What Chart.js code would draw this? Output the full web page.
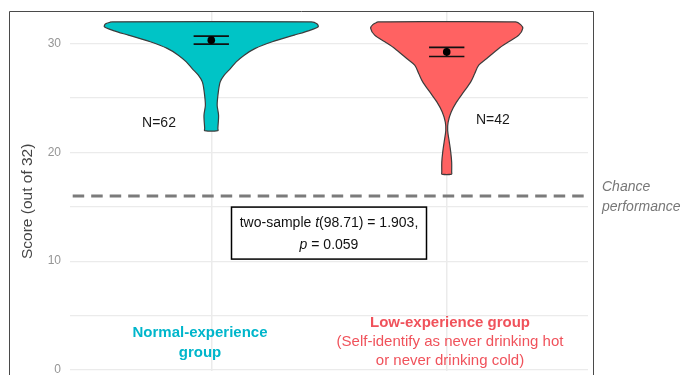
<!DOCTYPE html>
<html>
<head>
<meta charset="utf-8">
<script src="https://cdn.jsdelivr.net/npm/chart.js@4.4.0/dist/chart.umd.min.js"></script>
<style>
  html, body { margin: 0; padding: 0; background: #ffffff; }
  canvas { display: block; }
</style>
</head>
<body>
<canvas id="chart" width="681" height="375"></canvas>
<script>
// ---- data ----
const groupCenters = [1, 2];
const sampleSizes = [62, 42];
const meanScores = [30.32, 29.24];
const seScores = [0.37, 0.42];
const chanceScore = 16;
const yTickValues = [0, 5, 10, 15, 20, 25, 30];

// violin outlines: score levels (top to bottom) and half-width of the density there (category units)
const normalLevels = [32, 31.8, 31.55, 31.2, 30.78, 30.17, 29.56, 28.94, 28.32, 27.71, 27.1, 26.48, 25.56, 24.33, 23.41, 22.21, 22];
const normalHalfWidth = [0.425, 0.450, 0.454, 0.416, 0.352, 0.259, 0.187, 0.140, 0.106, 0.081, 0.055, 0.038, 0.030, 0.025, 0.031, 0.028, 0.028];
const lowLevels = [32, 31.75, 31.4, 30.78, 30.17, 29.56, 28.64, 28.02, 27.25, 26.48, 25.56, 24.64, 23.71, 22.79, 22.0, 20.95, 20.03, 19.1, 18.18, 18];
const lowHalfWidth = [0.293, 0.314, 0.323, 0.306, 0.263, 0.221, 0.170, 0.136, 0.119, 0.102, 0.072, 0.042, 0.019, 0.006, 0.004, 0.011, 0.017, 0.021, 0.021, 0.021];

// text
const yAxisTitle = 'Score (out of 32)';
const normalLabel = ['Normal-experience', 'group'];
const lowLabel = ['Low-experience group', '(Self-identify as never drinking hot', 'or never drinking cold)'];
const testStat = { df: '98.71', t: '1.903', p: '0.059' };
const chanceLabel = ['Chance', 'performance'];

// ---- styling ----
const FONT = '"Liberation Sans", Arial, Helvetica, sans-serif';
const TEAL = '#00C4C6';
const RED = '#FF6262';
const TEAL_TEXT = '#00B6CB';
const RED_TEXT = '#F0525B';
Chart.defaults.font.family = FONT;

function violinOutline(center, levels, half) {
  const left = levels.map((y, i) => ({ x: center - half[i], y }));
  const right = levels.map((y, i) => ({ x: center + half[i], y })).reverse();
  return left.concat(right, [left[0]]);
}

function errorBarPath(center, mean, se, capHalf) {
  const hi = mean + se, lo = mean - se;
  return [
    { x: center - capHalf, y: hi }, { x: center + capHalf, y: hi },
    { x: center, y: null },
    { x: center, y: hi }, { x: center, y: lo },
    { x: center, y: null },
    { x: center - capHalf, y: lo }, { x: center + capHalf, y: lo }
  ];
}

const CAP = 0.075;

const datasets = [
  {
    label: 'errorbar-normal',
    data: errorBarPath(groupCenters[0], meanScores[0], seScores[0], CAP),
    showLine: true, borderColor: '#111', borderWidth: 1.6, pointRadius: 0, spanGaps: false, order: 1
  },
  {
    label: 'errorbar-low',
    data: errorBarPath(groupCenters[1], meanScores[1], seScores[1], CAP),
    showLine: true, borderColor: '#111', borderWidth: 1.6, pointRadius: 0, spanGaps: false, order: 1
  },
  {
    label: 'means',
    data: groupCenters.map((c, i) => ({ x: c, y: meanScores[i] })),
    showLine: false, pointRadius: 3.8, pointBackgroundColor: '#000', pointBorderWidth: 0, order: 0
  },
  {
    label: 'Normal-experience',
    data: violinOutline(groupCenters[0], normalLevels, normalHalfWidth),
    showLine: true, fill: 'shape', backgroundColor: TEAL, borderColor: '#3c3c3c', borderWidth: 1.2,
    tension: 0.3, pointRadius: 0, order: 3
  },
  {
    label: 'Low-experience',
    data: violinOutline(groupCenters[1], lowLevels, lowHalfWidth),
    showLine: true, fill: 'shape', backgroundColor: RED, borderColor: '#3c3c3c', borderWidth: 1.2,
    tension: 0.3, pointRadius: 0, order: 3
  },
  {
    label: 'chance',
    data: [{ x: 0.4, y: chanceScore }, { x: 2.6, y: chanceScore }],
    showLine: true, borderColor: '#7b7b7b', borderWidth: 3, borderDash: [11.5, 7], borderDashOffset: 15.8,
    pointRadius: 0, order: 4
  }
];

// frame, axis title, labels and the test box
const annotations = {
  id: 'annotations',
  afterDraw(chart) {
    const { ctx, scales: { x, y } } = chart;
    ctx.save();

    // outer frame
    ctx.strokeStyle = '#4a4a4a';
    ctx.lineWidth = 1;
    ctx.beginPath();
    ctx.moveTo(9.5, 375); ctx.lineTo(9.5, 11.5); ctx.lineTo(593.5, 11.5); ctx.lineTo(593.5, 375);
    ctx.stroke();

    ctx.textBaseline = 'middle';

    // y axis title
    ctx.save();
    ctx.translate(28, y.getPixelForValue(15.5));
    ctx.rotate(-Math.PI / 2);
    ctx.textAlign = 'center';
    ctx.fillStyle = '#444';
    ctx.font = '15.5px ' + FONT;
    ctx.fillText(yAxisTitle, 0, 0);
    ctx.restore();

    // sample sizes
    ctx.fillStyle = '#1a1a1a';
    ctx.font = '14px ' + FONT;
    ctx.textAlign = 'center';
    ctx.fillText('N=' + sampleSizes[0], x.getPixelForValue(0.778), y.getPixelForValue(22.7));
    ctx.fillText('N=' + sampleSizes[1], x.getPixelForValue(2.196), y.getPixelForValue(23.0));

    // chance label
    ctx.fillStyle = '#777';
    ctx.font = 'italic 14px ' + FONT;
    ctx.textAlign = 'left';
    const cy = y.getPixelForValue(chanceScore);
    ctx.fillText(chanceLabel[0], 602, cy - 9);
    ctx.fillText(chanceLabel[1], 602, cy + 11.5);

    // test box
    const bx = x.getPixelForValue(1.5), by = y.getPixelForValue(12.58);
    const bw = 195, bh = 52;
    ctx.fillStyle = '#fff';
    ctx.fillRect(bx - bw / 2, by - bh / 2, bw, bh);
    ctx.strokeStyle = '#000';
    ctx.lineWidth = 1.5;
    ctx.strokeRect(bx - bw / 2, by - bh / 2, bw, bh);

    const drawRuns = (runs, cx, yy) => {
      let total = 0;
      runs.forEach(r => { ctx.font = (r.italic ? 'italic ' : '') + '14px ' + FONT; r.w = ctx.measureText(r.text).width; total += r.w; });
      let xx = cx - total / 2;
      ctx.textAlign = 'left';
      runs.forEach(r => { ctx.font = (r.italic ? 'italic ' : '') + '14px ' + FONT; ctx.fillText(r.text, xx, yy); xx += r.w; });
    };
    ctx.fillStyle = '#111';
    drawRuns([{ text: 'two-sample ' }, { text: 't', italic: true }, { text: '(' + testStat.df + ') = ' + testStat.t + ',' }], bx, by - 10);
    drawRuns([{ text: 'p', italic: true }, { text: ' = ' + testStat.p }], bx, by + 12.5);

    // group labels
    ctx.textAlign = 'center';
    ctx.fillStyle = TEAL_TEXT;
    ctx.font = 'bold 15px ' + FONT;
    ctx.fillText(normalLabel[0], 200, 333);
    ctx.fillText(normalLabel[1], 200, 353);

    ctx.fillStyle = RED_TEXT;
    ctx.fillText(lowLabel[0], 450, 323);
    ctx.font = '15px ' + FONT;
    ctx.fillText(lowLabel[1], 450, 342);
    ctx.fillText(lowLabel[2], 450, 361);

    ctx.restore();
  }
};

function noScalePadding(s) {
  s.paddingTop = 0; s.paddingBottom = 0; s.paddingLeft = 0; s.paddingRight = 0;
}

new Chart(document.getElementById('chart'), {
  type: 'scatter',
  data: { datasets },
  options: {
    responsive: false,
    devicePixelRatio: 1,
    animation: false,
    layout: { padding: { left: 0, right: 93, top: 11, bottom: 0 } },
    plugins: { legend: { display: false }, tooltip: { enabled: false } },
    scales: {
      x: {
        type: 'linear', min: 0.4, max: 2.6,
        afterBuildTicks(s) { s.ticks = groupCenters.map(v => ({ value: v })); },
        afterFit(s) { s.height = 0; noScalePadding(s); },
        ticks: { display: false },
        grid: { color: '#ebebeb', lineWidth: 1.5, drawTicks: false },
        border: { display: false }
      },
      y: {
        type: 'linear', min: -0.1, max: 33.0,
        afterBuildTicks(s) { s.ticks = yTickValues.map(v => ({ value: v })); },
        afterFit(s) { s.width = 70; noScalePadding(s); },
        ticks: {
          callback: v => (v % 10 === 0 ? String(v) : ''),
          color: '#959595', font: { size: 12 }, padding: 9
        },
        grid: { color: '#ebebeb', lineWidth: 1.2, drawTicks: false },
        border: { display: false }
      }
    }
  },
  plugins: [annotations]
});
</script>
</body>
</html>
